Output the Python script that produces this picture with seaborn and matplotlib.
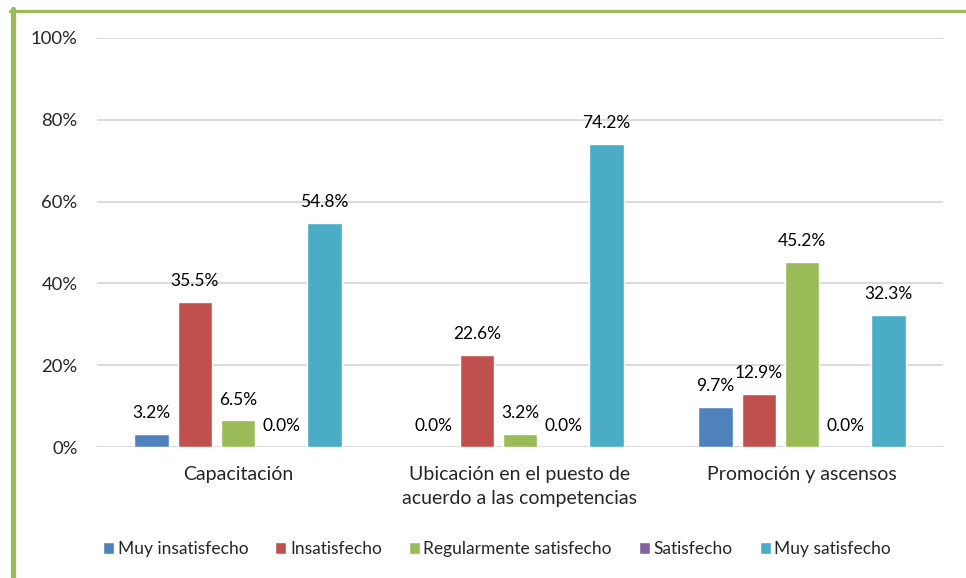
import seaborn as sns
import pandas as pd
import matplotlib.pyplot as plt
from matplotlib.lines import Line2D
from matplotlib.ticker import PercentFormatter

categorias = ["Capacitación",
              "Ubicación en el puesto de\nacuerdo a las competencias",
              "Promoción y ascensos"]
series = ["Muy insatisfecho", "Insatisfecho", "Regularmente satisfecho",
          "Satisfecho", "Muy satisfecho"]
muy_insatisfecho = [3.2, 0.0, 9.7]
insatisfecho = [35.5, 22.6, 12.9]
regularmente = [6.5, 3.2, 45.2]
satisfecho = [0.0, 0.0, 0.0]
muy_satisfecho = [54.8, 74.2, 32.3]
colores = ["#4F81BD", "#C0504D", "#9BBB59", "#8064A2", "#4BACC6"]

valores = [muy_insatisfecho, insatisfecho, regularmente, satisfecho, muy_satisfecho]
filas = []
for s, vals in zip(series, valores):
    for c, v in zip(categorias, vals):
        filas.append({"categoria": c, "serie": s, "valor": v})
df = pd.DataFrame(filas)

sns.set_theme(style="white")
plt.rcParams["font.family"] = ["Lato", "DejaVu Sans"]

fig = plt.figure(figsize=(9.66, 5.78), dpi=100)
ax = fig.add_axes([97 / 966, 1 - 447 / 578, 846 / 966, 409 / 578])

sns.barplot(data=df, x="categoria", y="valor", hue="serie", hue_order=series,
            palette=colores, width=0.765, gap=0.2, saturation=1, ax=ax)

# etiquetas de datos
for cont, vals in zip(ax.containers, valores):
    for bar, v in zip(cont, vals):
        ax.annotate(f"{v:.1f}%", (bar.get_x() + bar.get_width() / 2, bar.get_height()),
                    xytext=(0, 15), textcoords="offset points",
                    ha="center", va="center", fontsize=12.5, color="#000000")

handles, labels = ax.get_legend_handles_labels()
ax.get_legend().remove()
fig.legend(handles, labels, loc="center", bbox_to_anchor=(497 / 966, 1 - 549 / 578),
           ncol=5, frameon=False, handlelength=0.65, handleheight=0.65,
           handletextpad=0.2, columnspacing=1.55, fontsize=12.5)

ax.set_ylim(0, 100)
ax.set_xlim(-0.5, 2.5)
ax.set_yticks([0, 20, 40, 60, 80, 100])
ax.yaxis.set_major_formatter(PercentFormatter(decimals=0))
ax.yaxis.grid(True, color="#D9D9D9", linewidth=1.3)
ax.set_axisbelow(True)
for sp in ax.spines.values():
    sp.set_visible(False)
ax.set_xlabel("")
ax.set_ylabel("")
ax.set_xticks(range(len(categorias)))
ax.set_xticklabels(categorias, linespacing=1.5)
ax.tick_params(axis="y", length=0, pad=14, labelsize=13.3)
ax.tick_params(axis="x", length=0, pad=14, labelsize=14)

# borde verde
fig.add_artist(Line2D([12.5 / 966, 12.5 / 966], [0, 1 - 9 / 578],
                      color="#9BBB59", lw=3.8, transform=fig.transFigure))
fig.add_artist(Line2D([10 / 966, 1], [1 - 10.5 / 578, 1 - 10.5 / 578],
                      color="#9BBB59", lw=2.4, transform=fig.transFigure))

fig.savefig("out.png", dpi=100)
